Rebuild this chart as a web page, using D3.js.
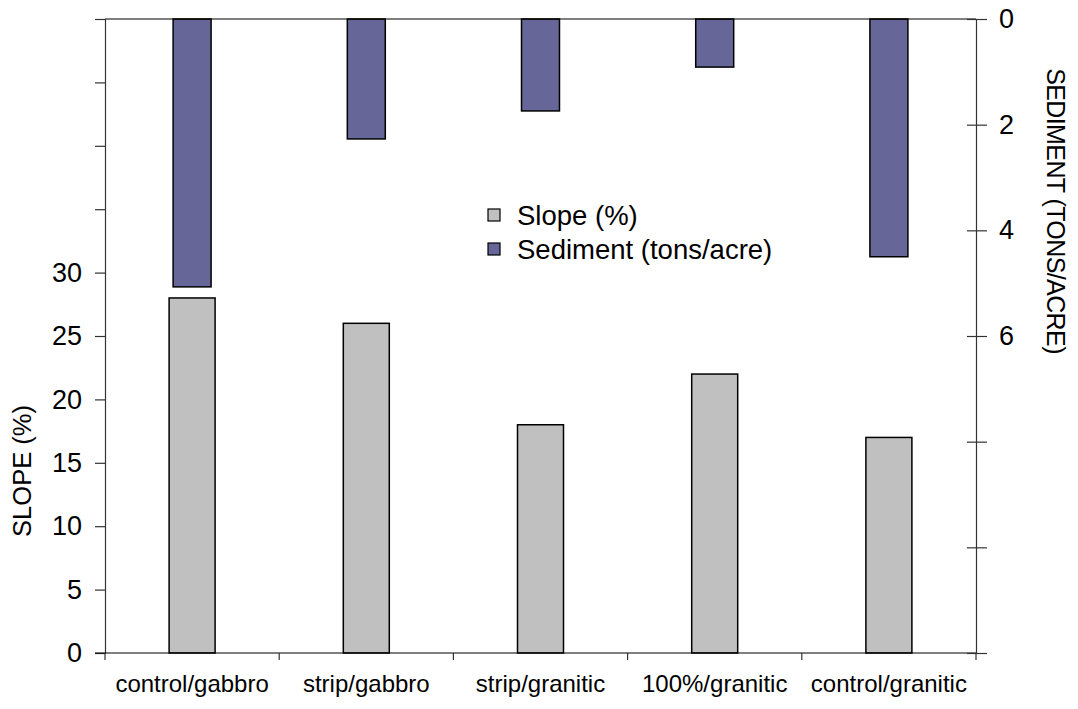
<!DOCTYPE html>
<html>
<head>
<meta charset="utf-8">
<script src="https://cdn.jsdelivr.net/npm/d3@7"></script>
<style>
  body { margin: 0; background: #fff; }
  text { font-family: "Liberation Sans", Arial, sans-serif; fill: #000; }
</style>
</head>
<body>
<div id="chart"></div>
<script>
var categories = ["control/gabbro", "strip/gabbro", "strip/granitic", "100%/granitic", "control/granitic"];
var slope = [28, 26, 18, 22, 17];
var sediment = [5.07, 2.27, 1.74, 0.91, 4.5];
var slopeTicks = [0, 5, 10, 15, 20, 25, 30, 35, 40, 45, 50];
var slopeLabels = [0, 5, 10, 15, 20, 25, 30];
var sedTicks = [0, 2, 4, 6, 8, 10, 12];
var sedLabels = [0, 2, 4, 6];

var W = 1078, H = 709;
var margin = {top: 19, right: 102, bottom: 56, left: 105},
    width = W - margin.left - margin.right,
    height = H - margin.top - margin.bottom;

var svg = d3.select("#chart")
  .append("svg")
  .attr("width", W)
  .attr("height", H)
  .append("g")
  .attr("transform", "translate(" + margin.left + "," + margin.top + ")");

var x = d3.scaleBand()
  .domain(categories)
  .range([0, width])
  .padding(0);

var y = d3.scaleLinear().domain([0, 50]).range([height, 0]);
var y2 = d3.scaleLinear().domain([0, 12]).range([0, height]);

var data = categories.map(function(c, i) {
  return {cat: c, slope: slope[i], sed: sediment[i]};
});

// slope bars
var gw = x.bandwidth() * 0.264;
svg.append("g").selectAll("rect")
  .data(data)
  .enter()
  .append("rect")
  .attr("x", function(d) { return x(d.cat) + x.bandwidth() / 2 - gw / 2; })
  .attr("y", function(d) { return y(d.slope); })
  .attr("width", gw)
  .attr("height", function(d) { return height - y(d.slope); })
  .attr("fill", "#c0c0c0")
  .attr("stroke", "#000")
  .attr("stroke-width", 1.5);

// sediment bars hanging from the top
var sw = x.bandwidth() * 0.218;
svg.append("g").selectAll("rect")
  .data(data)
  .enter()
  .append("rect")
  .attr("x", function(d) { return x(d.cat) + x.bandwidth() / 2 - sw / 2; })
  .attr("y", y2(0))
  .attr("width", sw)
  .attr("height", function(d) { return y2(d.sed); })
  .attr("fill", "#666699")
  .attr("stroke", "#000")
  .attr("stroke-width", 1.5);

// top line
svg.append("line")
  .attr("x1", 0).attr("x2", width)
  .attr("y1", 0).attr("y2", 0)
  .attr("stroke", "#000").attr("stroke-width", 1.2);

// left axis
var yAxis = svg.append("g")
  .call(d3.axisLeft(y)
    .tickValues(slopeTicks)
    .tickSize(10)
    .tickPadding(13)
    .tickFormat(function(d) { return slopeLabels.indexOf(d) >= 0 ? d : ""; }));
yAxis.select(".domain").attr("stroke", "#333").attr("stroke-width", 1.2);
yAxis.selectAll(".tick line").attr("stroke", "#333").attr("stroke-width", 1.2);
yAxis.selectAll("text").style("font-size", "27px").attr("font-family", null);

// bottom axis
var xAxis = svg.append("g")
  .attr("transform", "translate(0," + height + ")");
xAxis.append("line")
  .attr("x1", -10).attr("x2", width)
  .attr("stroke", "#000").attr("stroke-width", 1.2);
xAxis.selectAll(".ctick")
  .data(d3.range(categories.length + 1))
  .enter()
  .append("line")
  .attr("x1", function(i) { return i * x.bandwidth(); })
  .attr("x2", function(i) { return i * x.bandwidth(); })
  .attr("y1", 0).attr("y2", 7)
  .attr("stroke", "#333").attr("stroke-width", 1.2);
xAxis.selectAll(".clabel")
  .data(categories)
  .enter()
  .append("text")
  .attr("x", function(d) { return x(d) + x.bandwidth() / 2; })
  .attr("y", 39)
  .attr("text-anchor", "middle")
  .style("font-size", "24px")
  .text(function(d) { return d; });

// right axis (reversed)
var rAxis = svg.append("g")
  .attr("transform", "translate(" + width + ",0)")
  .call(d3.axisRight(y2)
    .tickValues(sedTicks)
    .tickSizeInner(11)
    .tickSizeOuter(0)
    .tickPadding(12)
    .tickFormat(function(d) { return sedLabels.indexOf(d) >= 0 ? d : ""; }));
rAxis.select(".domain").attr("stroke", "#333").attr("stroke-width", 1.2);
rAxis.selectAll(".tick line").attr("x1", -9).attr("stroke", "#333").attr("stroke-width", 1.2);
rAxis.selectAll("text").style("font-size", "27px").attr("font-family", null);

// axis titles
svg.append("text")
  .attr("transform", "translate(" + (22 - margin.left) + "," + (471 - margin.top) + ") rotate(-90)")
  .attr("text-anchor", "middle")
  .attr("dy", "0.35em")
  .style("font-size", "25.5px")
  .text("SLOPE (%)");

svg.append("text")
  .attr("transform", "translate(" + (1056 - margin.left) + "," + (211 - margin.top) + ") rotate(90)")
  .attr("text-anchor", "middle")
  .attr("dy", "0.35em")
  .style("font-size", "25px")
  .style("letter-spacing", "-0.6px")
  .text("SEDIMENT (TONS/ACRE)");

// legend
var legend = [
  {label: "Slope (%)", color: "#c0c0c0"},
  {label: "Sediment (tons/acre)", color: "#666699"}
];
var lg = svg.append("g")
  .attr("transform", "translate(" + (488 - margin.left) + "," + (209 - margin.top) + ")");
var li = lg.selectAll("g")
  .data(legend)
  .enter()
  .append("g")
  .attr("transform", function(d, i) { return "translate(0," + (i * 34) + ")"; });
li.append("rect")
  .attr("width", 12).attr("height", 12)
  .attr("fill", function(d) { return d.color; })
  .attr("stroke", "#000").attr("stroke-width", 1.2);
li.append("text")
  .attr("x", 29).attr("y", 6)
  .attr("dy", "0.36em")
  .style("font-size", "27.5px")
  .text(function(d) { return d.label; });
</script>
</body>
</html>
